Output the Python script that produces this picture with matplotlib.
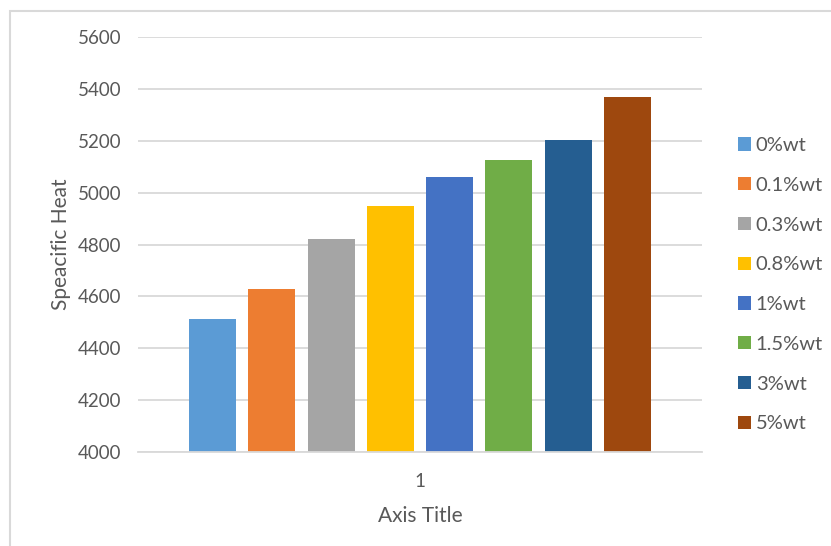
import numpy as np
import matplotlib.pyplot as plt
from matplotlib.patches import Rectangle

# data
series = ["0%wt", "0.1%wt", "0.3%wt", "0.8%wt", "1%wt", "1.5%wt", "3%wt", "5%wt"]
values = [4511, 4630, 4820, 4948, 5061, 5126, 5204, 5369]
colors = ["#5B9BD5", "#ED7D31", "#A5A5A5", "#FFC000",
          "#4472C4", "#70AD47", "#255E91", "#9E480E"]
category = ["1"]
yticks = [4000, 4200, 4400, 4600, 4800, 5000, 5200, 5400, 5600]

plt.rcParams['font.family'] = ['Lato', 'DejaVu Sans']
txt = "#595959"
grid = "#D9D9D9"

W, H = 831, 546
fig = plt.figure(figsize=(W/100, H/100), dpi=100)
# plot area in pixels: left 138, right 702, top 37, bottom 452
ax = fig.add_axes([138/W, 1-452/H, (702-138)/W, (452-37)/H])

pos = np.arange(len(series))
for i in range(len(series)):
    ax.bar(pos[i], values[i] - yticks[0], bottom=yticks[0], width=0.793,
           color=colors[i], label=series[i], zorder=3)

ax.set_xlim(3.5-4.755, 3.5+4.755)
ax.set_ylim(yticks[0], yticks[-1])
ax.set_yticks(yticks)
ax.set_xticks([3.5])
ax.set_xticklabels(category)
ax.tick_params(axis='both', length=0, colors=txt, labelsize=13.5)
ax.tick_params(axis='y', pad=12)
ax.tick_params(axis='x', pad=15)
ax.yaxis.grid(True, color=grid, lw=1.3, zorder=0)
for s in ["left", "right", "top"]:
    ax.spines[s].set_visible(False)
ax.spines["bottom"].set_color(grid)
ax.spines["bottom"].set_linewidth(1.3)
ax.spines["bottom"].set_zorder(4)

ax.set_xlabel("Axis Title", color=txt, fontsize=15, labelpad=12)
ax.set_ylabel("Speacific Heat", color=txt, fontsize=15, labelpad=5)

leg = fig.legend(loc="upper left", bbox_to_anchor=(738/W, 1-137/H), frameon=False,
                 fontsize=14.5, labelspacing=1.13, handlelength=0.63,
                 handleheight=0.63, handletextpad=0.25, labelcolor=txt,
                 borderpad=0, borderaxespad=0)

# light chart-area border
fig.patches.append(Rectangle((10/W, -0.05), 1.1, 1-11/H+0.05, transform=fig.transFigure,
                             fill=False, edgecolor=grid, lw=1.5))

fig.savefig("out.png", dpi=100)
